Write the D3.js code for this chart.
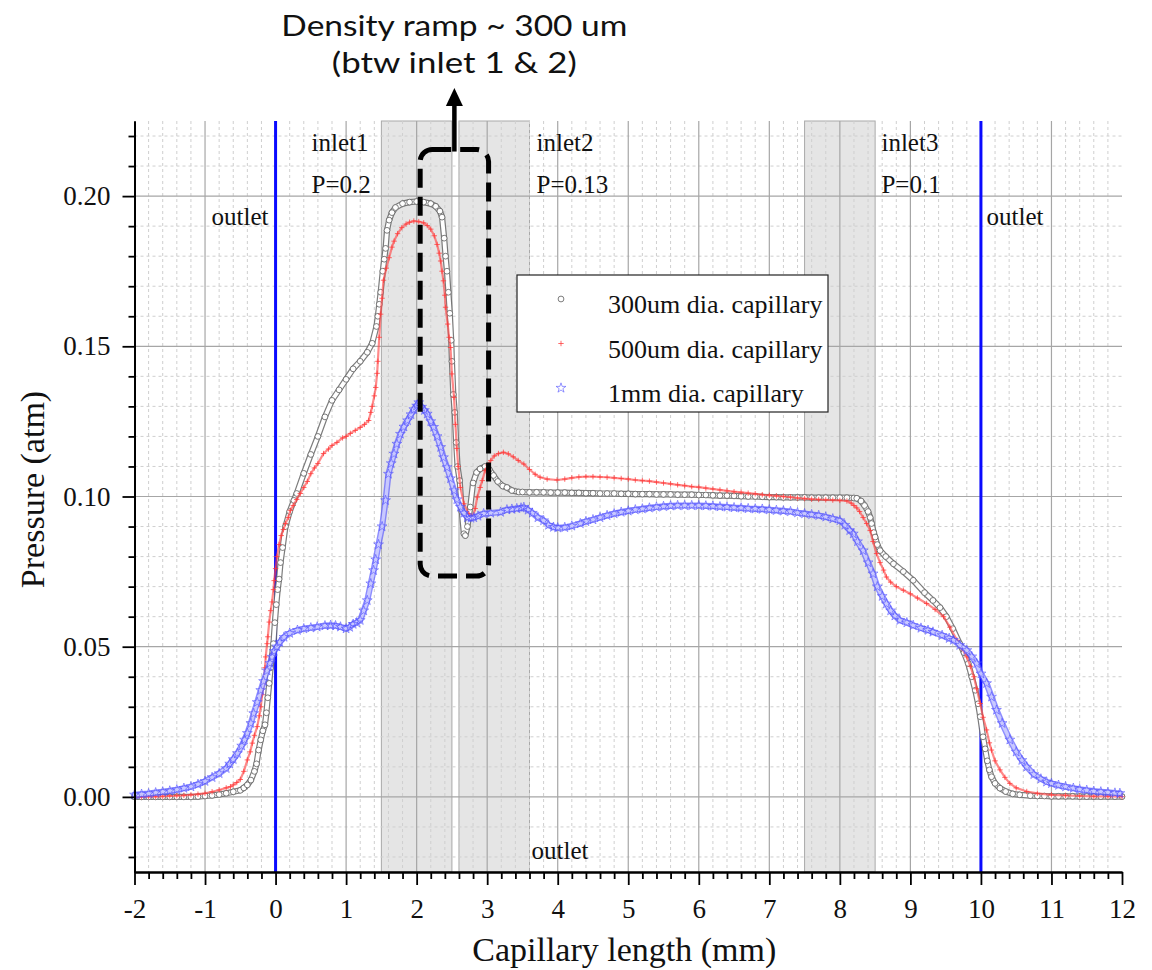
<!DOCTYPE html>
<html>
<head>
<meta charset="utf-8">
<script src="https://cdn.jsdelivr.net/npm/d3@7"></script>
<style>
  html, body { margin: 0; padding: 0; background: #ffffff; }
  svg { display: block; }
</style>
</head>
<body>
<svg id="chart" width="1152" height="970"></svg>
<script>
// ---------------- data ----------------
// Pressure profile along the capillary: [position (mm), pressure (atm)]
const series300um = [
  [-2.0,0.0000],[-1.9,0.0000],[-1.8,0.0000],[-1.7,0.0000],[-1.6,0.0000],[-1.5,0.0000],[-1.4,0.0000],
  [-1.3,0.0000],[-1.2,0.0000],[-1.1,0.0001],[-1.0,0.0003],[-0.9,0.0005],[-0.8,0.0008],[-0.7,0.0012],
  [-0.6,0.0017],[-0.5,0.0022],[-0.45,0.0030],[-0.4,0.0040],[-0.35,0.0056],[-0.3,0.0085],[-0.27,0.0110],
  [-0.24,0.0156],[-0.21,0.0190],[-0.18,0.0220],[-0.15,0.0240],[-0.13,0.0280],[-0.11,0.0330],[-0.09,0.0378],
  [-0.07,0.0430],[-0.05,0.0470],[-0.03,0.0510],[-0.01,0.0580],[0.01,0.0640],[0.03,0.0690],[0.05,0.0725],
  [0.07,0.0780],[0.1,0.0830],[0.14,0.0900],[0.2,0.0950],[0.26,0.0987],[0.3,0.1010],[0.4,0.1077],
  [0.5,0.1140],[0.6,0.1200],[0.7,0.1265],[0.8,0.1320],[0.9,0.1355],[1.0,0.1390],[1.1,0.1425],
  [1.2,0.1450],[1.3,0.1480],[1.37,0.1510],[1.43,0.1566],[1.45,0.1600],[1.47,0.1640],[1.49,0.1680],
  [1.52,0.1750],[1.54,0.1790],[1.56,0.1826],[1.58,0.1886],[1.61,0.1920],[1.65,0.1945],[1.7,0.1962],
  [1.8,0.1975],[1.9,0.1980],[2.0,0.1982],[2.1,0.1980],[2.2,0.1975],[2.27,0.1966],[2.33,0.1950],
  [2.36,0.1930],[2.39,0.1860],[2.41,0.1800],[2.43,0.1750],[2.45,0.1680],[2.47,0.1610],[2.49,0.1520],
  [2.5,0.1450],[2.52,0.1340],[2.54,0.1280],[2.56,0.1180],[2.58,0.1100],[2.61,0.1053],[2.64,0.0950],
  [2.67,0.0876],[2.69,0.0870],[2.72,0.0900],[2.76,0.0965],[2.8,0.1045],[2.85,0.1080],[2.9,0.1092],
  [2.97,0.1100],[3.03,0.1090],[3.09,0.1070],[3.15,0.1050],[3.22,0.1035],[3.28,0.1030],[3.35,0.1020],
  [3.45,0.1015],[3.5,0.1015],[3.6,0.1014],[3.7,0.1014],[3.8,0.1014],[3.9,0.1013],[4.0,0.1013],
  [4.1,0.1013],[4.2,0.1012],[4.3,0.1012],[4.4,0.1011],[4.5,0.1011],[4.6,0.1010],[4.7,0.1010],
  [4.8,0.1010],[4.9,0.1009],[5.0,0.1009],[5.1,0.1008],[5.2,0.1008],[5.3,0.1008],[5.4,0.1007],
  [5.5,0.1007],[5.6,0.1007],[5.7,0.1006],[5.8,0.1006],[5.9,0.1006],[6.0,0.1005],[6.1,0.1005],
  [6.2,0.1004],[6.3,0.1003],[6.4,0.1003],[6.5,0.1002],[6.6,0.1001],[6.7,0.1000],[6.8,0.1000],
  [6.9,0.0999],[7.0,0.0998],[7.1,0.0998],[7.2,0.0997],[7.3,0.0997],[7.4,0.0997],[7.5,0.0997],
  [7.6,0.0996],[7.7,0.0996],[7.8,0.0996],[7.9,0.0996],[8.0,0.0996],[8.1,0.0996],[8.2,0.0995],
  [8.24,0.0994],[8.3,0.0985],[8.35,0.0970],[8.4,0.0950],[8.43,0.0930],[8.45,0.0910],[8.48,0.0880],
  [8.5,0.0865],[8.53,0.0840],[8.57,0.0820],[8.65,0.0800],[8.76,0.0776],[8.9,0.0750],[9.04,0.0721],
  [9.2,0.0680],[9.32,0.0654],[9.42,0.0630],[9.51,0.0600],[9.6,0.0560],[9.7,0.0510],[9.76,0.0480],
  [9.82,0.0444],[9.87,0.0400],[9.92,0.0355],[9.96,0.0310],[9.99,0.0267],[10.03,0.0200],[10.06,0.0160],
  [10.09,0.0120],[10.12,0.0090],[10.15,0.0067],[10.2,0.0045],[10.27,0.0029],[10.35,0.0018],[10.45,0.0010],
  [10.55,0.0007],[10.7,0.0004],[10.8,0.0003],[10.9,0.0003],[11.0,0.0002],[11.1,0.0002],[11.2,0.0002],
  [11.3,0.0002],[11.4,0.0001],[11.5,0.0001],[11.6,0.0001],[11.7,0.0001],[11.8,0.0001],[11.9,0.0001],
  [12.0,0.0001]
];

const series500um = [
  [-2.0,0.0000],[-1.9,0.0000],[-1.8,0.0001],[-1.7,0.0001],[-1.6,0.0002],[-1.5,0.0003],[-1.4,0.0004],
  [-1.3,0.0005],[-1.2,0.0007],[-1.1,0.0009],[-1.0,0.0012],[-0.9,0.0017],[-0.8,0.0023],[-0.7,0.0030],
  [-0.64,0.0034],[-0.6,0.0040],[-0.55,0.0048],[-0.5,0.0058],[-0.45,0.0085],[-0.4,0.0123],[-0.36,0.0150],
  [-0.33,0.0179],[-0.3,0.0205],[-0.26,0.0234],[-0.23,0.0270],[-0.21,0.0300],[-0.19,0.0340],[-0.17,0.0378],
  [-0.15,0.0430],[-0.14,0.0466],[-0.12,0.0510],[-0.11,0.0533],[-0.09,0.0582],[-0.07,0.0620],[-0.05,0.0649],
  [-0.03,0.0690],[-0.02,0.0720],[0.0,0.0760],[0.02,0.0800],[0.05,0.0840],[0.08,0.0870],[0.11,0.0890],
  [0.14,0.0910],[0.18,0.0930],[0.21,0.0954],[0.25,0.0970],[0.3,0.0990],[0.35,0.1010],[0.4,0.1030],
  [0.45,0.1050],[0.5,0.1076],[0.55,0.1095],[0.6,0.1110],[0.68,0.1143],[0.75,0.1158],[0.8,0.1170],
  [0.87,0.1180],[0.95,0.1195],[1.0,0.1200],[1.06,0.1210],[1.13,0.1220],[1.2,0.1230],[1.26,0.1240],
  [1.32,0.1253],[1.35,0.1280],[1.37,0.1300],[1.4,0.1335],[1.42,0.1363],[1.44,0.1410],[1.45,0.1450],
  [1.47,0.1530],[1.49,0.1607],[1.51,0.1660],[1.53,0.1720],[1.57,0.1760],[1.61,0.1795],[1.65,0.1830],
  [1.68,0.1850],[1.73,0.1875],[1.79,0.1895],[1.85,0.1907],[1.9,0.1913],[1.96,0.1917],[2.03,0.1915],
  [2.1,0.1911],[2.15,0.1902],[2.2,0.1890],[2.25,0.1868],[2.29,0.1839],[2.32,0.1810],[2.34,0.1784],
  [2.36,0.1750],[2.38,0.1718],[2.4,0.1670],[2.41,0.1630],[2.44,0.1574],[2.46,0.1530],[2.48,0.1496],
  [2.5,0.1408],[2.53,0.1330],[2.55,0.1240],[2.57,0.1160],[2.59,0.1100],[2.62,0.1030],[2.67,0.0976],
  [2.74,0.0943],[2.79,0.0930],[2.83,0.0960],[2.86,0.0998],[2.9,0.1030],[2.93,0.1053],[2.97,0.1086],
  [3.01,0.1105],[3.05,0.1120],[3.1,0.1135],[3.16,0.1143],[3.23,0.1147],[3.3,0.1142],[3.37,0.1132],
  [3.44,0.1120],[3.52,0.1108],[3.6,0.1090],[3.68,0.1074],[3.75,0.1064],[3.85,0.1058],[3.99,0.1055],
  [4.1,0.1058],[4.2,0.1062],[4.3,0.1065],[4.4,0.1066],[4.5,0.1066],[4.6,0.1065],[4.7,0.1064],
  [4.8,0.1062],[4.9,0.1060],[5.0,0.1058],[5.1,0.1055],[5.2,0.1053],[5.3,0.1051],[5.4,0.1048],
  [5.5,0.1045],[5.6,0.1042],[5.7,0.1039],[5.8,0.1036],[5.9,0.1033],[6.0,0.1031],[6.1,0.1028],
  [6.2,0.1025],[6.3,0.1022],[6.4,0.1019],[6.5,0.1016],[6.6,0.1014],[6.7,0.1011],[6.8,0.1009],
  [6.9,0.1006],[7.0,0.1004],[7.1,0.1002],[7.2,0.1000],[7.3,0.0998],[7.4,0.0995],[7.5,0.0993],
  [7.6,0.0991],[7.7,0.0990],[7.8,0.0989],[7.9,0.0988],[8.0,0.0987],[8.1,0.0985],[8.16,0.0978],
  [8.2,0.0970],[8.24,0.0962],[8.28,0.0950],[8.33,0.0930],[8.38,0.0910],[8.43,0.0887],[8.47,0.0850],
  [8.52,0.0810],[8.57,0.0780],[8.62,0.0755],[8.66,0.0732],[8.72,0.0715],[8.8,0.0700],[8.9,0.0688],
  [9.0,0.0676],[9.1,0.0662],[9.23,0.0644],[9.35,0.0624],[9.47,0.0600],[9.56,0.0565],[9.66,0.0522],
  [9.73,0.0495],[9.8,0.0466],[9.85,0.0435],[9.9,0.0400],[9.94,0.0360],[9.99,0.0311],[10.03,0.0265],
  [10.08,0.0223],[10.12,0.0180],[10.15,0.0156],[10.2,0.0120],[10.27,0.0090],[10.34,0.0065],[10.41,0.0045],
  [10.5,0.0030],[10.65,0.0018],[10.8,0.0012],[11.0,0.0007],[11.2,0.0005],[11.4,0.0003],[11.6,0.0002],
  [11.8,0.0002],[12.0,0.0001]
];

const series1mm = [
  [-2.0,0.0007],[-1.9,0.0009],[-1.8,0.0011],[-1.7,0.0014],[-1.6,0.0017],[-1.5,0.0020],[-1.4,0.0024],
  [-1.3,0.0029],[-1.2,0.0034],[-1.1,0.0042],[-1.0,0.0052],[-0.9,0.0065],[-0.8,0.0078],[-0.7,0.0095],
  [-0.65,0.0110],[-0.6,0.0125],[-0.54,0.0145],[-0.48,0.0170],[-0.44,0.0190],[-0.4,0.0212],[-0.35,0.0245],
  [-0.31,0.0278],[-0.26,0.0315],[-0.21,0.0355],[-0.17,0.0385],[-0.12,0.0420],[-0.08,0.0445],[-0.05,0.0466],
  [-0.02,0.0485],[0.02,0.0500],[0.06,0.0515],[0.12,0.0532],[0.2,0.0545],[0.31,0.0555],[0.4,0.0560],
  [0.5,0.0563],[0.59,0.0566],[0.7,0.0570],[0.78,0.0571],[0.85,0.0570],[0.92,0.0566],[1.0,0.0560],
  [1.05,0.0565],[1.1,0.0575],[1.15,0.0580],[1.2,0.0588],[1.25,0.0620],[1.3,0.0654],[1.35,0.0710],
  [1.39,0.0754],[1.42,0.0790],[1.46,0.0840],[1.51,0.0900],[1.56,0.0987],[1.6,0.1075],[1.64,0.1110],
  [1.68,0.1142],[1.72,0.1175],[1.77,0.1208],[1.82,0.1232],[1.87,0.1253],[1.92,0.1273],[1.96,0.1290],
  [2.0,0.1302],[2.03,0.1313],[2.07,0.1298],[2.11,0.1287],[2.15,0.1275],[2.2,0.1250],[2.24,0.1231],
  [2.29,0.1200],[2.34,0.1164],[2.38,0.1130],[2.43,0.1097],[2.48,0.1060],[2.53,0.1020],[2.57,0.0990],
  [2.62,0.0965],[2.67,0.0945],[2.72,0.0930],[2.77,0.0928],[2.81,0.0930],[2.87,0.0935],[2.95,0.0943],
  [3.05,0.0945],[3.19,0.0948],[3.28,0.0956],[3.35,0.0958],[3.42,0.0960],[3.48,0.0962],[3.52,0.0964],
  [3.58,0.0955],[3.64,0.0945],[3.72,0.0930],[3.8,0.0920],[3.87,0.0905],[3.94,0.0898],[4.0,0.0896],
  [4.1,0.0897],[4.2,0.0902],[4.32,0.0910],[4.4,0.0917],[4.5,0.0923],[4.6,0.0930],[4.7,0.0937],
  [4.8,0.0943],[4.9,0.0948],[5.0,0.0952],[5.1,0.0956],[5.2,0.0959],[5.3,0.0962],[5.4,0.0965],
  [5.5,0.0967],[5.6,0.0969],[5.7,0.0970],[5.8,0.0970],[5.9,0.0970],[6.0,0.0970],[6.1,0.0969],
  [6.2,0.0968],[6.3,0.0966],[6.4,0.0965],[6.5,0.0963],[6.6,0.0962],[6.7,0.0960],[6.8,0.0959],
  [6.9,0.0958],[7.0,0.0956],[7.1,0.0954],[7.2,0.0952],[7.3,0.0950],[7.4,0.0946],[7.5,0.0943],
  [7.6,0.0940],[7.7,0.0937],[7.8,0.0932],[7.9,0.0926],[8.0,0.0920],[8.07,0.0905],[8.14,0.0887],
  [8.19,0.0876],[8.25,0.0850],[8.33,0.0820],[8.4,0.0780],[8.47,0.0743],[8.53,0.0700],[8.6,0.0668],
  [8.66,0.0643],[8.72,0.0620],[8.78,0.0603],[8.85,0.0588],[8.95,0.0580],[9.04,0.0571],[9.15,0.0562],
  [9.25,0.0555],[9.32,0.0549],[9.45,0.0538],[9.55,0.0528],[9.61,0.0522],[9.7,0.0505],[9.8,0.0488],
  [9.87,0.0467],[9.94,0.0444],[10.0,0.0410],[10.08,0.0378],[10.15,0.0333],[10.22,0.0289],[10.3,0.0245],
  [10.41,0.0190],[10.5,0.0150],[10.58,0.0122],[10.65,0.0100],[10.75,0.0075],[10.85,0.0060],[10.93,0.0050],
  [11.0,0.0045],[11.1,0.0039],[11.2,0.0034],[11.31,0.0029],[11.4,0.0025],[11.5,0.0022],[11.6,0.0019],
  [11.7,0.0017],[11.8,0.0015],[11.9,0.0013],[11.97,0.0012]
];

const seriesNames = ["300um dia. capillary", "500um dia. capillary", "1mm dia. capillary"];

// axis ticks
const xTickValues = [-2, -1, 0, 1, 2, 3, 4, 5, 6, 7, 8, 9, 10, 11, 12];
const xTickLabels = ["-2", "-1", "0", "1", "2", "3", "4", "5", "6", "7", "8", "9", "10", "11", "12"];
const yTickValues = [0.00, 0.05, 0.10, 0.15, 0.20];
const yTickLabels = ["0.00", "0.05", "0.10", "0.15", "0.20"];

// shaded inlet zones (mm) and outlet positions (mm)
const inletBands = [[1.5, 2.5], [2.6, 3.6], [7.5, 8.5]];
const outletPositions = [0, 10];

// region labels, anchored in axis units
const regionLabels = [
  { text: "inlet1", x: 0.51, y: 0.2151, anchor: "start" },
  { text: "P=0.2", x: 0.51, y: 0.2009, anchor: "start" },
  { text: "outlet", x: -0.10, y: 0.1904, anchor: "end" },
  { text: "inlet2", x: 3.70, y: 0.2151, anchor: "start" },
  { text: "P=0.13", x: 3.70, y: 0.2009, anchor: "start" },
  { text: "inlet3", x: 8.59, y: 0.2151, anchor: "start" },
  { text: "P=0.1", x: 8.59, y: 0.2009, anchor: "start" },
  { text: "outlet", x: 10.08, y: 0.1904, anchor: "start" },
  { text: "outlet", x: 3.63, y: -0.0207, anchor: "start" }
];

// highlighted density-ramp window (mm, atm)
const rampWindowX = [2.05, 3.02];
const rampWindowY = [0.0735, 0.2155];
const rampNote = ["Density ramp ~ 300 um", "(btw inlet 1 & 2)"];

// ---------------- layout ----------------
const svg = d3.select("#chart");
const plot = { left: 134.5, right: 1122, top: 121, bottom: 872 };

const x = d3.scaleLinear().domain([-2, 12]).range([plot.left, plot.right]);
const y = d3.scaleLinear().domain([-0.025, 0.225]).range([plot.bottom, plot.top]);

const serif = '"Liberation Serif", "Times New Roman", serif';

// minor grid / tick positions: every 0.2 mm and every 0.01 atm between the major ones
const xMinor = d3.range(-9, 60).map(i => i / 5).filter(v => Math.abs(v - Math.round(v)) > 1e-6);
const yMinor = d3.range(-2, 23).map(i => i / 100).filter(v => Math.abs(v * 20 - Math.round(v * 20)) > 1e-6);

// ---------------- background zones ----------------
svg.append("g").selectAll("rect").data(inletBands).join("rect")
  .attr("x", d => x(d[0]))
  .attr("y", plot.top)
  .attr("width", d => x(d[1]) - x(d[0]))
  .attr("height", plot.bottom - plot.top)
  .attr("fill", "#e5e5e5")
  .attr("stroke", "#a9a9a9")
  .attr("stroke-width", 1);

// ---------------- grid ----------------
const grid = svg.append("g");
grid.selectAll(".vminor").data(xMinor).join("line")
  .attr("x1", d => x(d)).attr("x2", d => x(d))
  .attr("y1", plot.top).attr("y2", plot.bottom)
  .attr("stroke", "#cfcfcf").attr("stroke-width", 1).attr("stroke-dasharray", "3,3");
grid.selectAll(".hminor").data(yMinor).join("line")
  .attr("x1", plot.left).attr("x2", plot.right)
  .attr("y1", d => y(d)).attr("y2", d => y(d))
  .attr("stroke", "#cfcfcf").attr("stroke-width", 1).attr("stroke-dasharray", "3,3");
grid.selectAll(".vmajor").data(xTickValues.filter(v => v > -2 && v < 12)).join("line")
  .attr("x1", d => x(d)).attr("x2", d => x(d))
  .attr("y1", plot.top).attr("y2", plot.bottom)
  .attr("stroke", "#a6a6a6").attr("stroke-width", 1.2);
grid.selectAll(".hmajor").data(yTickValues).join("line")
  .attr("x1", plot.left).attr("x2", plot.right)
  .attr("y1", d => y(d)).attr("y2", d => y(d))
  .attr("stroke", "#a6a6a6").attr("stroke-width", 1.2);

// ---------------- outlet markers ----------------
svg.append("g").selectAll("line").data(outletPositions).join("line")
  .attr("x1", d => x(d)).attr("x2", d => x(d))
  .attr("y1", plot.top).attr("y2", plot.bottom)
  .attr("stroke", "#0a0aff").attr("stroke-width", 3);

// ---------------- series ----------------
const crossPath = "M-2.7,0H2.7M0,-2.7V2.7";
const starPath = d3.symbol(d3.symbolStar).size(30)();

// each series: a band-like trace (outer/inner strokes) under its scatter symbols
const seriesDefs = [
  { data: series300um, name: seriesNames[0], kind: "circle", color: "#5c5c5c",
    outer: { color: "#6e6e6e", width: 6.2, opacity: 0.9 }, inner: { color: "#ffffff", width: 3.8, opacity: 1 } },
  { data: series500um, name: seriesNames[1], kind: "cross", color: "#ff3a3a",
    outer: { color: "#ff4a4a", width: 2.2, opacity: 0.65 }, inner: null },
  { data: series1mm, name: seriesNames[2], kind: "star", color: "#5050ff",
    outer: { color: "#5c5cff", width: 6.2, opacity: 0.7 }, inner: { color: "#cfcfff", width: 3.4, opacity: 0.9 } }
];

function drawMarker(sel, kind, color) {
  if (kind === "circle") {
    sel.append("circle").attr("r", 2.9)
      .attr("fill", "#ffffff").attr("stroke", color).attr("stroke-width", 0.8);
  } else if (kind === "cross") {
    sel.append("path").attr("d", crossPath)
      .attr("fill", "none").attr("stroke", color).attr("stroke-width", 0.9).attr("stroke-opacity", 0.85);
  } else {
    sel.append("path").attr("d", starPath)
      .attr("fill", "none").attr("stroke", color).attr("stroke-width", 0.8).attr("stroke-opacity", 0.75);
  }
}

const lineGen = d3.line().x(d => x(d[0])).y(d => y(d[1]));

seriesDefs.forEach(s => {
  const g = svg.append("g");
  [s.outer, s.inner].filter(Boolean).forEach(st => {
    g.append("path").datum(s.data)
      .attr("d", lineGen)
      .attr("fill", "none")
      .attr("stroke", st.color)
      .attr("stroke-opacity", st.opacity)
      .attr("stroke-width", st.width)
      .attr("stroke-linejoin", "round")
      .attr("stroke-linecap", "round");
  });
  g.selectAll("g").data(s.data).join("g")
    .attr("transform", d => `translate(${x(d[0])},${y(d[1])})`)
    .each(function () { drawMarker(d3.select(this), s.kind, s.color); });
});

// ---------------- region labels ----------------
svg.append("g").selectAll("text").data(regionLabels).join("text")
  .attr("x", d => x(d.x)).attr("y", d => y(d.y))
  .attr("text-anchor", d => d.anchor)
  .style("font-family", serif).style("font-size", "25px").attr("fill", "#111")
  .text(d => d.text);

// ---------------- axes ----------------
const xAxis = d3.axisBottom(x).tickValues(xTickValues)
  .tickFormat((d, i) => xTickLabels[i]).tickSize(13).tickSizeOuter(0).tickPadding(14);
const xAxisMinor = d3.axisBottom(x).tickValues(xMinor).tickFormat("").tickSize(7).tickSizeOuter(0);
const yAxis = d3.axisLeft(y).tickValues(yTickValues)
  .tickFormat((d, i) => yTickLabels[i]).tickSize(12).tickSizeOuter(0).tickPadding(12);
const yAxisMinor = d3.axisLeft(y).tickValues(yMinor).tickFormat("").tickSize(6).tickSizeOuter(0);

function styleAxis(g) {
  g.select(".domain").attr("stroke", "#000").attr("stroke-width", 2);
  g.selectAll(".tick line").attr("stroke", "#000").attr("stroke-width", 1.8);
  g.selectAll(".tick text").style("font-family", serif).style("font-size", "27px").attr("fill", "#111");
}

svg.append("g").attr("transform", `translate(0,${plot.bottom})`).call(xAxisMinor).call(styleAxis);
svg.append("g").attr("transform", `translate(0,${plot.bottom})`).call(xAxis).call(styleAxis);
svg.append("g").attr("transform", `translate(${plot.left},0)`).call(yAxisMinor).call(styleAxis);
svg.append("g").attr("transform", `translate(${plot.left},0)`).call(yAxis).call(styleAxis);

// axis titles
svg.append("text")
  .attr("x", (plot.left + plot.right) / 2 - 4).attr("y", 961)
  .attr("text-anchor", "middle")
  .style("font-family", serif).style("font-size", "34px").attr("fill", "#111")
  .text("Capillary length (mm)");
svg.append("text")
  .attr("transform", `translate(44,${(plot.top + plot.bottom) / 2 - 7}) rotate(-90)`)
  .attr("text-anchor", "middle")
  .style("font-family", serif).style("font-size", "34px").attr("fill", "#111")
  .text("Pressure (atm)");

// ---------------- legend ----------------
const legend = svg.append("g").attr("transform", "translate(517,275)");
legend.append("rect").attr("width", 311).attr("height", 137)
  .attr("fill", "#ffffff").attr("stroke", "#222").attr("stroke-width", 1.2);
seriesDefs.forEach((s, i) => {
  const row = legend.append("g").attr("transform", `translate(0,${24 + i * 44.5})`);
  const m = row.append("g").attr("transform", "translate(44,0)");
  drawMarker(m, s.kind, s.color);
  row.append("text").attr("x", 91).attr("y", 14)
    .style("font-family", serif).style("font-size", "26px").attr("fill", "#111")
    .text(s.name);
});

// ---------------- density ramp window ----------------
const win = svg.append("g");
const wx0 = x(rampWindowX[0]), wx1 = x(rampWindowX[1]);
const wy0 = y(rampWindowY[1]), wy1 = y(rampWindowY[0]);
const wcx = (wx0 + wx1) / 2;
win.append("rect")
  .attr("x", wx0).attr("y", wy0)
  .attr("width", wx1 - wx0).attr("height", wy1 - wy0)
  .attr("rx", 12).attr("ry", 12)
  .attr("fill", "none").attr("stroke", "#000").attr("stroke-width", 5)
  .attr("stroke-dasharray", "19,9");
win.append("line")
  .attr("x1", wcx).attr("x2", wcx).attr("y1", wy0 + 2).attr("y2", 104)
  .attr("stroke", "#000").attr("stroke-width", 4.5);
win.append("path")
  .attr("d", `M${wcx - 8.5},106L${wcx + 8.5},106L${wcx},88Z`)
  .attr("fill", "#000");

const noteFont = '"Lato", "Open Sans", "Noto Sans", sans-serif';
const noteWidths = [346, 245];
const noteBaselines = [36, 72.5];
rampNote.forEach((t, i) => {
  svg.append("text")
    .attr("x", wcx).attr("y", noteBaselines[i])
    .attr("text-anchor", "middle")
    .attr("textLength", noteWidths[i])
    .attr("lengthAdjust", "spacingAndGlyphs")
    .style("font-family", noteFont).style("font-size", "29px").attr("fill", "#111")
    .text(t);
});
</script>
</body>
</html>
